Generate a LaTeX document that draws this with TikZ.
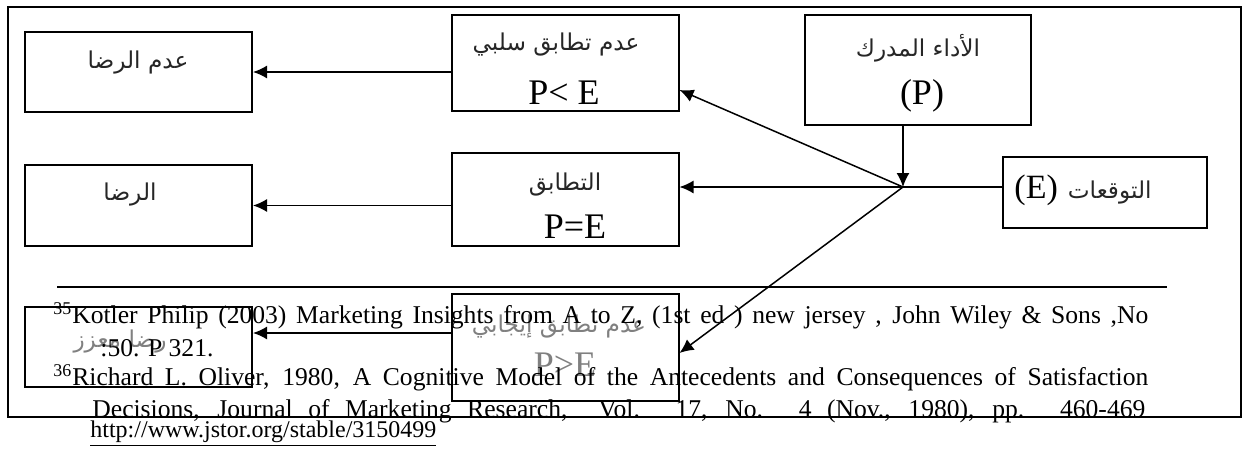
\documentclass[tikz,border=0pt]{standalone}
\usepackage{fontspec}
\setmainfont{Liberation Serif}
\newfontfamily\arabicfont[Script=Arabic]{DejaVu Sans}
\TeXXeTstate=1
\usetikzlibrary{arrows.meta}
\begin{document}
\begin{tikzpicture}[x=0.5pt,y=-0.5pt,
  box/.style={draw, line width=1pt, inner sep=0pt, minimum width=113.5pt},
  conn/.style={line width=0.75pt},
  arr/.style={conn, -{Latex[length=7pt,width=6.5pt]}},
  ar/.style={font=\arabicfont\fontsize{11.6}{13}\selectfont, inner sep=0pt, text=black!85},
  rel/.style={font=\fontsize{18}{20}\selectfont, inner sep=0pt},
  note/.style={font=\fontsize{12.8}{14}\selectfont, inner sep=0pt, anchor=base west},
  faint/.style={text=black!50},
]
\useasboundingbox (0,0) rectangle (1244,450);

% outer frame
\draw[line width=1.4pt] (8,7) rectangle (1241,417);

% outcome boxes (left column)
\node[box, minimum height=40pt]   (S1) at (138.5,72)  {};
\node[box, minimum height=40.5pt] (S2) at (138.5,205.5) {};
\node[box, minimum height=40pt]   (S3) at (138.5,347) {};

% comparison boxes (middle column)
\node[box, minimum height=48pt]   (S4) at (565,63)    {};
\node[box, minimum height=46.5pt] (S5) at (565,199.5) {};
\node[box, minimum height=53.5pt] (S6) at (565,347.5) {};

% inputs
\node[box, minimum width=113pt, minimum height=55pt]   (P) at (918,70)    {};
\node[box, minimum width=102pt, minimum height=35.5pt] (E) at (1105,192.5) {};

% box texts
\node[ar] (t1) at (138,63) {\beginR عدم الرضا\endR};
\node[ar] (t2) at (130,195) {\beginR الرضا\endR};
\node[ar, faint] (t3) at (120,342) {\beginR رضا معزز\endR};

\node[ar]  (t4a) at (556,45) {\beginR عدم تطابق سلبي\endR};
\node[rel] (t4b) at (564,93) {P< E};
\node[ar]  (t5a) at (565,185) {\beginR التطابق\endR};
\node[rel] (t5b) at (575,227) {P=E};
\node[ar, faint]  (t6a) at (559,327) {\beginR عدم تطابق إيجابي\endR};
\node[rel, faint] (t6b) at (565,365) {P>E};

\node[ar]  (tPa) at (918,48) {\beginR الأداء المدرك\endR};
\node[rel] (tPb) at (922,96) {(P)};
\node[inner sep=0pt] (tE) at (1083,190)
  {{\fontsize{17}{20}\selectfont (E)}\hspace{5pt}{\arabicfont\fontsize{11.6}{13}\selectfont\color{black!85}\beginR التوقعات\endR}};

% connectors
\coordinate (J) at (903,187);
\coordinate (c3) at ([yshift=7pt]S3.east);
\draw[arr] (P.south -| J) -- (J);
\draw[arr] (E.west |- J) -- (S5.east |- J);
\draw[arr] (J) -- ([yshift=11pt]S4.south east);
\draw[arr] (J) -- ([yshift=-2.75pt]S6.east);
\draw[arr] (S4.west |- S1.east) -- (S1.east);
\draw[arr] (S5.west |- S2.east) -- (S2.east);
\draw[arr] (S6.west |- c3) -- (c3);

% footnote rule and footnotes
\draw[line width=1pt] (57,287) -- (1167,287);
\node[note] (n1) at (53,323) {\textsuperscript{35}\makebox[538pt][s]{Kotler Philip (2003) Marketing Insights from A to Z, (1st ed ) new jersey , John Wiley \& Sons ,No}};
\node[note] (n2) at (100,356) {:50. P 321.};
\node[note] (n3) at (53,385) {\textsuperscript{36}\makebox[538pt][s]{Richard L. Oliver, 1980, A Cognitive Model of the Antecedents and Consequences of Satisfaction}};
\node[note] (n4) at (92,417) {\makebox[526.5pt][s]{Decisions, Journal of Marketing Research,\ \ Vol. 17, No. 4 (Nov., 1980), pp. 460-469}};
\node[note, font=\fontsize{12}{14}\selectfont] (n5) at (90,437) {\underline{http://www.jstor.org/stable/3150499}};
\end{tikzpicture}
\end{document}
